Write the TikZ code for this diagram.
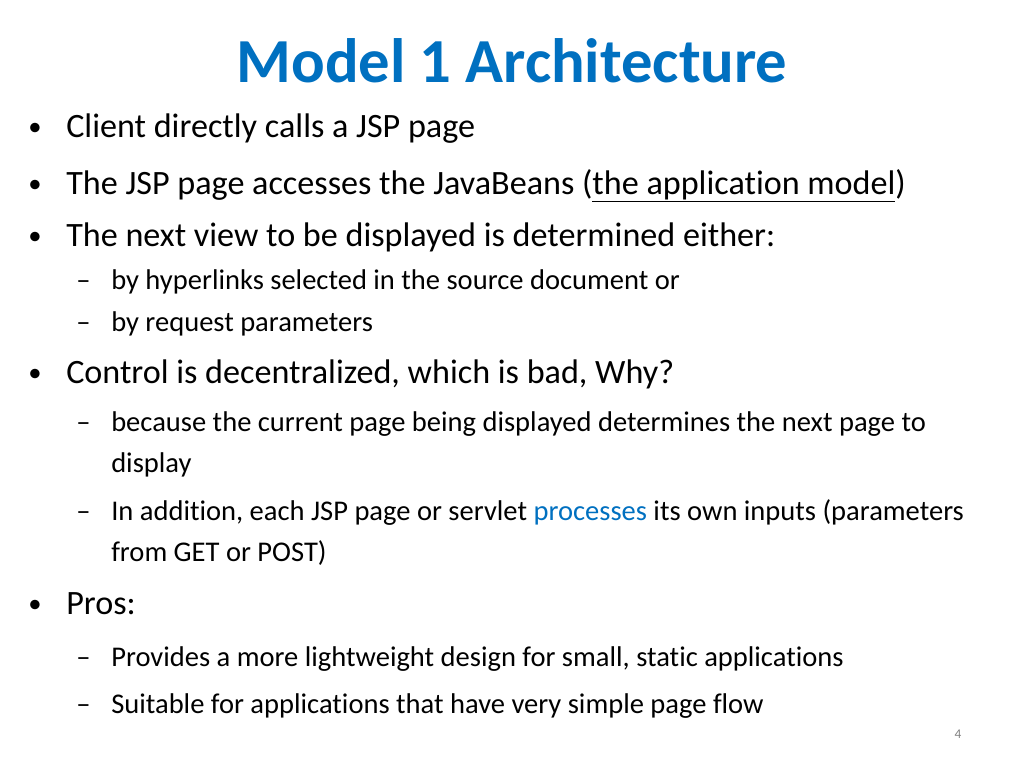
\documentclass[tikz,border=0pt]{standalone}
\usepackage{fontspec}
\setmainfont[RawFeature={-liga}]{Carlito}
\definecolor{titleblue}{RGB}{0,112,192}
\tikzset{
  lvlone/.style={anchor=base west,inner sep=0pt,font=\fontsize{25.6}{30}\selectfont},
  lvltwo/.style={anchor=base west,inner sep=0pt,font=\fontsize{21.4}{25}\selectfont},
  bulletmark/.style={anchor=base west,inner sep=0pt,font=\fontsize{20}{24}\selectfont},
  dashmark/.style={anchor=base west,inner sep=0pt,font=\fontsize{21.4}{25}\selectfont}
}
\begin{document}
\begin{tikzpicture}[x=0.75pt,y=0.75pt,yscale=-1,xscale=1]
\useasboundingbox (0,0) rectangle (1024,768);

% Title
\node (title) [anchor=base,inner sep=0pt,text=titleblue,font=\fontsize{47}{52}\selectfont\bfseries] at (512,82) {Model 1 Architecture};

% Bullets
\node [bulletmark] at (28,135) {•};
\node (client) [lvlone] at (66,137) {Client directly calls a JSP page};
\node [bulletmark] at (28,192) {•};
\node (access) [lvlone] at (66,194) {The JSP page accesses the JavaBeans (\underline{the application model})};
\node [bulletmark] at (28,244) {•};
\node (nextview) [lvlone] at (66,246) {The next view to be displayed is determined either:};
\node [dashmark] at (76,289) {–};
\node (links) [lvltwo] at (111,289) {by hyperlinks selected in the source document or};
\node [dashmark] at (76,331) {–};
\node (params) [lvltwo] at (111,331) {by request parameters};
\node [bulletmark] at (28,381) {•};
\node (control) [lvlone] at (66,383) {Control is decentralized, which is bad, Why?};
\node [dashmark] at (76,431) {–};
\node (because) [lvltwo] at (111,431) {because the current page being displayed determines the next page to};
\node (display) [lvltwo] at (111,472) {display};
\node [dashmark] at (76,520) {–};
\node (inputs) [lvltwo] at (111,520) {In addition, each JSP page or servlet \textcolor{titleblue}{processes} its own inputs (parameters};
\node (getpost) [lvltwo] at (111,561) {from GET or POST)};
\node [bulletmark] at (28,612) {•};
\node (pros) [lvlone] at (66,614) {Pros:};
\node [dashmark] at (76,666) {–};
\node (light) [lvltwo] at (111,666) {Provides a more lightweight design for small, static applications};
\node [dashmark] at (76,713) {–};
\node (simple) [lvltwo] at (111,713) {Suitable for applications that have very simple page flow};

% Page number
\node (pagenum) [anchor=base,inner sep=0pt,text=gray,font=\fontsize{10}{12}\selectfont] at (958,738) {4};
\end{tikzpicture}
\end{document}
